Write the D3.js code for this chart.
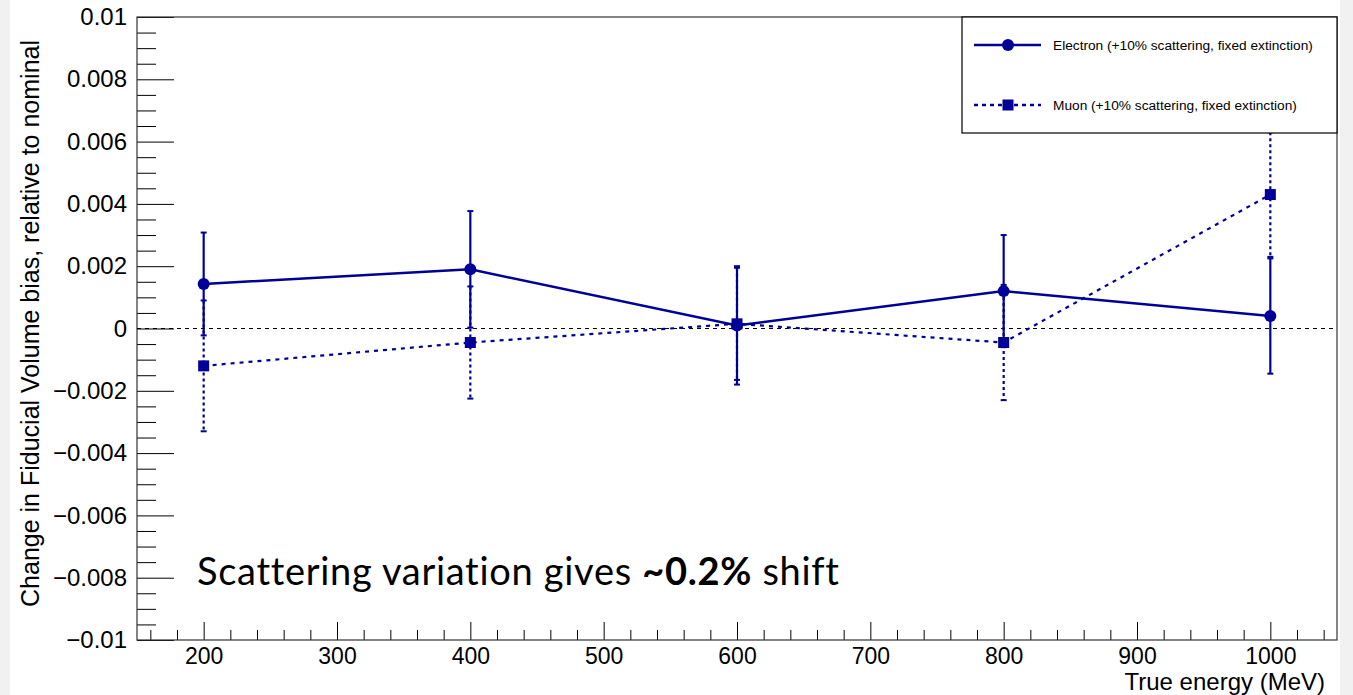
<!DOCTYPE html>
<html>
<head>
<meta charset="utf-8">
<script src="https://cdn.jsdelivr.net/npm/d3@7"></script>
<style>
  html, body { margin: 0; padding: 0; background: #fff; }
  svg { display: block; }
</style>
</head>
<body>
<div id="chart"></div>
<script>
// ── data ───────────────────────────────────────────────────────
const energies     = [200, 400, 600, 800, 1000]
const electronBias = [0.00143, 0.0019, 0.0001, 0.0012, 0.0004]
const electronErr  = [0.00165, 0.00187, 0.0019, 0.0018, 0.00185]
const muonBias     = [-0.0012, -0.00045, 0.00015, -0.00045, 0.0043]
const muonErr      = [0.0021, 0.0018, 0.0018, 0.00185, 0.002]

const xMajorTicks = [200, 300, 400, 500, 600, 700, 800, 900, 1000]
const yMajorTicks = [-0.01, -0.008, -0.006, -0.004, -0.002, 0, 0.002, 0.004, 0.006, 0.008, 0.01]

const seriesNames = [
  'Electron (+10% scattering, fixed extinction)',
  'Muon (+10% scattering, fixed extinction)',
]

const WIDTH = 1353, HEIGHT = 695
const MARGIN = { top: 17, right: 16, bottom: 55, left: 137 }
const COLOR = '#000099'
const LABEL_FONT = '"Liberation Sans", Arial, sans-serif'

const svg = d3.select('#chart').append('svg').attr('width', WIDTH).attr('height', HEIGHT)

// grey strips at page edges
svg.append('rect').attr('x', 0).attr('y', 0).attr('width', 10).attr('height', HEIGHT).attr('fill', '#f1f1f1')
svg.append('rect').attr('x', 1340).attr('y', 0).attr('width', 13).attr('height', HEIGHT).attr('fill', '#f1f1f1')

const W = WIDTH - MARGIN.left - MARGIN.right
const H = HEIGHT - MARGIN.top - MARGIN.bottom
const g = svg.append('g').attr('transform', `translate(${MARGIN.left},${MARGIN.top})`)

const x = d3.scaleLinear().domain([150, 1050]).range([0, W])
const y = d3.scaleLinear().domain([-0.01, 0.01]).range([H, 0])

const fmtY = d => d === 0 ? '0' : d3.format('.3~f')(d)

// ── axes ───────────────────────────────────────────────────────
const xMinor = d3.range(160, 1050, 20).filter(v => v % 100 !== 0)
g.append('g').attr('transform', `translate(0,${H})`)
  .call(d3.axisTop(x).tickValues(xMinor).tickSize(10).tickFormat(''))
  .call(a => a.select('.domain').remove())
g.append('g').attr('transform', `translate(0,${H})`)
  .call(d3.axisTop(x).tickValues(xMajorTicks).tickSize(18).tickFormat(''))
  .call(a => a.select('.domain').remove())
g.append('g').attr('class', 'x-labels').attr('transform', `translate(0,${H})`)
  .call(d3.axisBottom(x).tickValues(xMajorTicks).tickSize(0).tickPadding(8).tickFormat(d3.format('d')))
  .call(a => a.select('.domain').remove())
  .selectAll('text').style('font-family', LABEL_FONT).style('font-size', '23px').attr('fill', '#000')

const yMinor = d3.range(-20, 21).filter(i => i % 4 !== 0).map(i => i * 0.0005)
g.append('g')
  .call(d3.axisRight(y).tickValues(yMinor).tickSize(19).tickFormat(''))
  .call(a => a.select('.domain').remove())
g.append('g')
  .call(d3.axisRight(y).tickValues(yMajorTicks).tickSize(37).tickFormat(''))
  .call(a => a.select('.domain').remove())
g.append('g')
  .call(d3.axisLeft(y).tickValues(yMajorTicks).tickSize(0).tickPadding(10).tickFormat(fmtY))
  .call(a => a.select('.domain').remove())
  .selectAll('text').style('font-family', LABEL_FONT).style('font-size', '24px').attr('fill', '#000')

g.selectAll('.tick line').attr('stroke', '#000').attr('stroke-width', 1)

// frame
g.append('rect').attr('width', W).attr('height', H)
  .attr('fill', 'none').attr('stroke', '#333').attr('stroke-width', 1.2)

// axis titles
svg.append('text')
  .attr('transform', `translate(39,${MARGIN.top + H / 2 - 5}) rotate(-90)`)
  .attr('text-anchor', 'middle')
  .style('font-family', LABEL_FONT).style('font-size', '25px')
  .text('Change in Fiducial Volume bias, relative to nominal')

svg.append('text')
  .attr('x', 1325).attr('y', 690)
  .attr('text-anchor', 'end')
  .style('font-family', LABEL_FONT).style('font-size', '24px')
  .text('True energy (MeV)')

// zero line
g.append('line')
  .attr('x1', 0).attr('x2', W).attr('y1', y(0)).attr('y2', y(0))
  .attr('stroke', '#000').attr('stroke-width', 1.1).attr('stroke-dasharray', '4 4')

// ── series ─────────────────────────────────────────────────────
const electron = energies.map((e, i) => ({ e, v: electronBias[i], err: electronErr[i] }))
const muon     = energies.map((e, i) => ({ e, v: muonBias[i], err: muonErr[i] }))

const line = d3.line().x(d => x(d.e)).y(d => y(d.v))

function drawErrors(data, dash) {
  const eg = g.append('g')
  eg.selectAll('line.bar').data(data).join('line').attr('class', 'bar')
    .attr('x1', d => x(d.e)).attr('x2', d => x(d.e))
    .attr('y1', d => y(d.v + d.err)).attr('y2', d => y(d.v - d.err))
    .attr('stroke', COLOR).attr('stroke-width', 2.2).attr('stroke-dasharray', dash)
  eg.selectAll('line.cap').data(data.flatMap(d => [d.v + d.err, d.v - d.err].map(v => ({ e: d.e, v }))))
    .join('line').attr('class', 'cap')
    .attr('x1', d => x(d.e) - 3).attr('x2', d => x(d.e) + 3)
    .attr('y1', d => y(d.v)).attr('y2', d => y(d.v))
    .attr('stroke', COLOR).attr('stroke-width', 2)
}

drawErrors(muon, '3 3')
drawErrors(electron, null)

g.append('path').datum(muon).attr('d', line)
  .attr('fill', 'none').attr('stroke', COLOR).attr('stroke-width', 2.2).attr('stroke-dasharray', '4 5')
g.append('path').datum(electron).attr('d', line)
  .attr('fill', 'none').attr('stroke', COLOR).attr('stroke-width', 2.5)

g.selectAll('rect.muon').data(muon).join('rect').attr('class', 'muon')
  .attr('x', d => x(d.e) - 5.5).attr('y', d => y(d.v) - 5.5)
  .attr('width', 11).attr('height', 11).attr('fill', COLOR)
g.selectAll('circle.electron').data(electron).join('circle').attr('class', 'electron')
  .attr('cx', d => x(d.e)).attr('cy', d => y(d.v)).attr('r', 6).attr('fill', COLOR)

// ── legend ─────────────────────────────────────────────────────
const lg = svg.append('g').attr('transform', 'translate(962,17)')
lg.append('rect').attr('width', 1337 - 962).attr('height', 116)
  .attr('fill', '#fff').attr('stroke', '#000').attr('stroke-width', 1.2)

const legendRows = lg.selectAll('g.row').data(seriesNames).join('g').attr('class', 'row')
  .attr('transform', (_, i) => `translate(0,${28 + i * 60})`)
legendRows.append('line').attr('x1', 12).attr('x2', 79)
  .attr('stroke', COLOR).attr('stroke-width', 2.5)
  .attr('stroke-dasharray', (_, i) => i === 1 ? '4 4' : null)
legendRows.filter((_, i) => i === 0).append('circle').attr('cx', 46).attr('r', 6).attr('fill', COLOR)
legendRows.filter((_, i) => i === 1).append('rect')
  .attr('x', 40.5).attr('y', -5.5).attr('width', 11).attr('height', 11).attr('fill', COLOR)
legendRows.append('text').attr('x', 91).attr('dy', '0.35em')
  .style('font-family', LABEL_FONT).style('font-size', '13.7px')
  .text(d => d)

// ── annotation ─────────────────────────────────────────────────
const note = svg.append('text').attr('x', 197).attr('y', 585)
  .style('font-family', 'Lato, "Open Sans", sans-serif').style('font-size', '38px')
  .style('letter-spacing', '0.7px').attr('fill', '#000')
note.append('tspan').text('Scattering variation gives ')
note.append('tspan').style('font-weight', 'bold').text('~0.2%')
note.append('tspan').text(' shift')
</script>
</body>
</html>
